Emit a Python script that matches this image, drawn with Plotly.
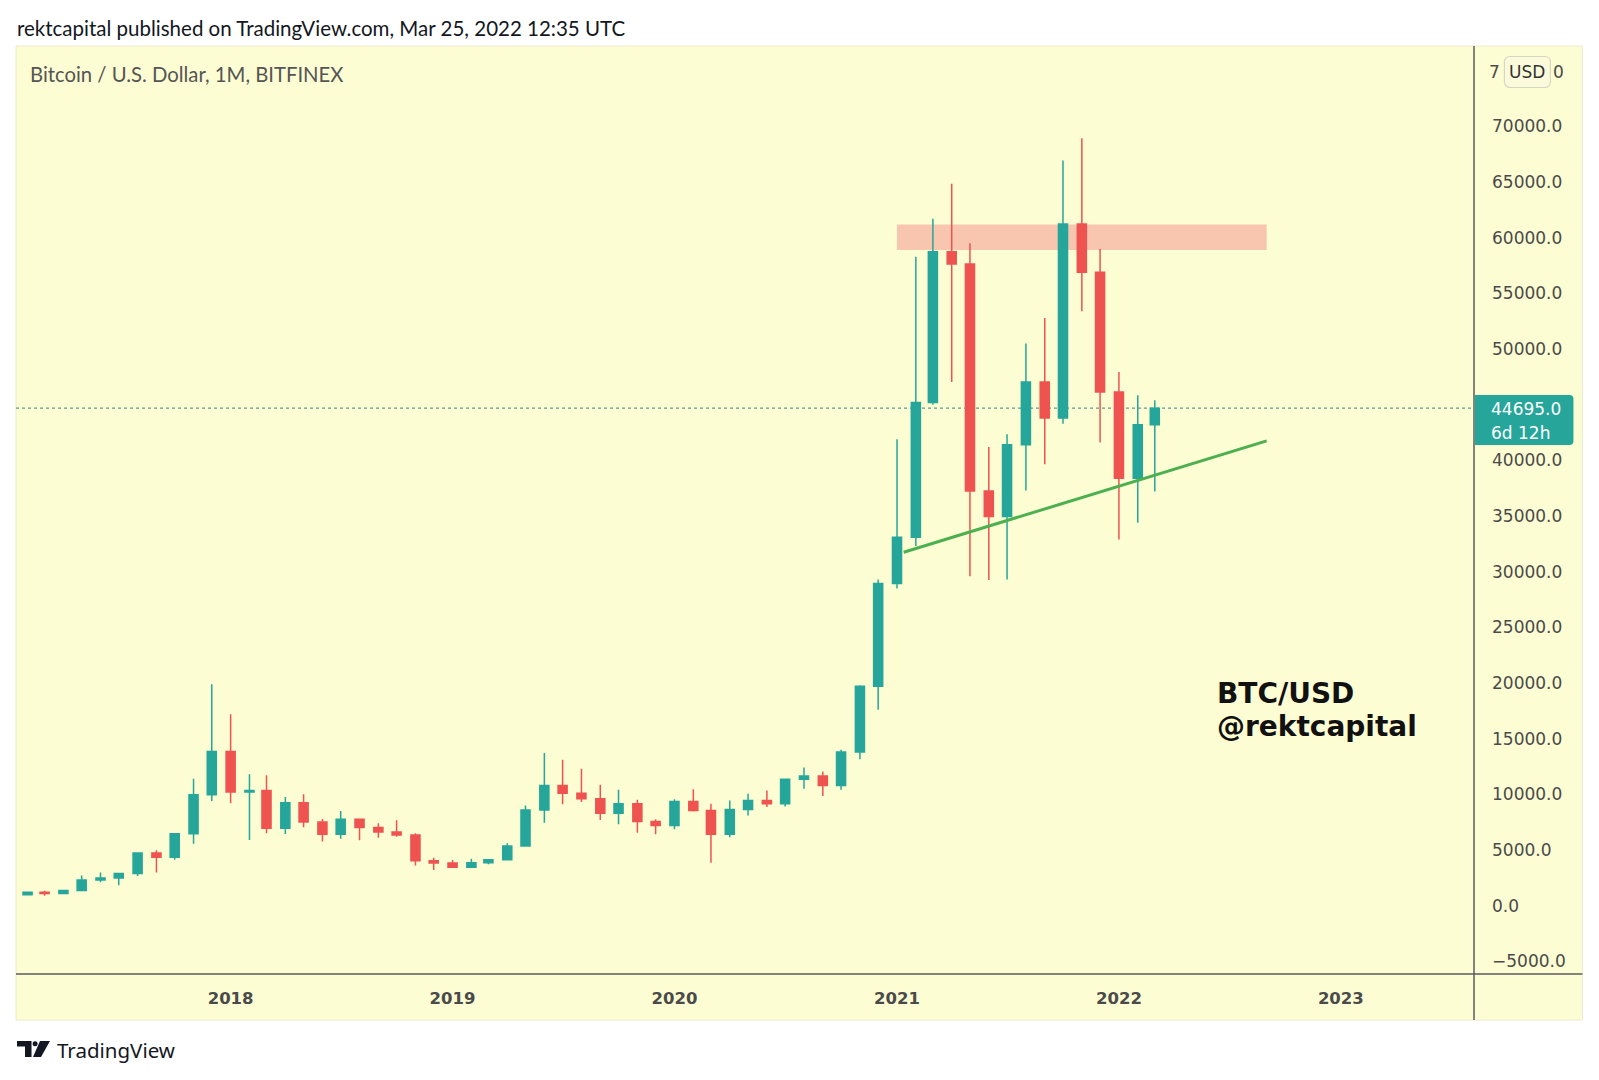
import plotly.graph_objects as go
import pandas as pd

# ---------------- data (monthly BTC/USD, Bitfinex) ----------------
months = pd.date_range("2017-02-01", periods=62, freq="MS")

open_ = [965, 1190, 1080, 1350, 2300, 2480, 2875, 4720, 4340, 6450, 9950,
         13850, 10200, 10350, 6950, 9250, 7500, 6400, 7750, 7020, 6620, 6340, 4040,
         3830, 3450, 3850, 4110, 5350, 8600, 10800, 10100, 9600, 8300, 9150, 7550,
         7200, 9350, 8550, 6420, 8630, 9450, 9140, 11350, 11650, 10780, 13800, 19700,
         28950, 33100, 45200, 58750, 57650, 37250, 34950, 41400, 47050, 43800, 61250, 56900,
         46150, 38400, 43200]
high = [1200, 1330, 1350, 2700, 2980, 2930, 4750, 4980, 6470, 11400, 19890,
        17200, 11800, 11700, 9750, 10000, 7770, 8500, 7770, 7400, 7660, 6500, 4300,
        4100, 4200, 4150, 5600, 9000, 13700, 13100, 12300, 10850, 10400, 9500, 7750,
        9550, 10450, 9150, 9450, 10050, 10350, 11400, 12400, 12050, 14000, 19800, 29300,
        41900, 58300, 61700, 64850, 59500, 41200, 42350, 50500, 52800, 66950, 68950, 59000,
        47950, 45850, 45400]
low = [915, 890, 1060, 1350, 2100, 1830, 2670, 2970, 4120, 5550, 9400,
       9200, 5900, 6500, 6430, 7030, 5760, 6000, 5880, 6100, 6180, 3600, 3200,
       3380, 3380, 3720, 4070, 5350, 7450, 9100, 9300, 7700, 7300, 6550, 6400,
       6850, 8450, 3850, 6150, 8100, 8850, 8900, 10500, 9850, 10400, 13150, 17600,
       28500, 32300, 45000, 47050, 29600, 29250, 29300, 37300, 39650, 43300, 53400, 41600,
       32900, 34400, 37200]
close = [1190, 1080, 1350, 2300, 2480, 2875, 4720, 4340, 6450, 9950, 13850,
         10200, 10350, 6950, 9250, 7500, 6400, 7750, 7020, 6620, 6340, 4040, 3830,
         3450, 3850, 4110, 5350, 8600, 10800, 10100, 9600, 8300, 9150, 7550, 7200,
         9350, 8550, 6420, 8630, 9450, 9140, 11350, 11650, 10780, 13800, 19700, 28950,
         33100, 45200, 58750, 57650, 37250, 34950, 41400, 47050, 43800, 61250, 56900, 46150,
         38400, 43200, 44695]

last_price = 44695.0
countdown = "6d 12h"

# price-scale labels (45000 hidden behind last-price tag, 75000 behind USD button)
price_ticks = [-5000, 0, 5000, 10000, 15000, 20000, 25000, 30000, 35000, 40000,
               50000, 55000, 60000, 65000, 70000]
top_tick_left = "7"
top_tick_right = "0"

year_ticks = ["2018-01-01", "2019-01-01", "2020-01-01", "2021-01-01", "2022-01-01", "2023-01-01"]
year_labels = ["2018", "2019", "2020", "2021", "2022", "2023"]

resist_dates = ["2021-01-01", "2022-09-01"]
resist_prices = [58900, 61200]
trend_dates = ["2021-01-12", "2022-09-01"]
trend_prices = [31750, 41750]

header_text = "rektcapital published on TradingView.com, Mar 25, 2022 12:35 UTC"
symbol_text = "Bitcoin / U.S. Dollar, 1M, BITFINEX"

# ---------------- style ----------------
UP = "#26a69a"
DOWN = "#ef5350"
BG = "#fdfdd3"
AXIS = "#5a5c60"
W, H = 1599, 1080
L, R, T, B = 16, 1473.6, 46, 974
PANEL_R, PANEL_B = 1582, 1020


def xp(px):
    return (px - L) / (R - L)


def yp(py):
    return (B - py) / (B - T)


fig = go.Figure()
fig.add_trace(go.Candlestick(
    x=months, open=open_, high=high, low=low, close=close,
    increasing=dict(line=dict(color=UP, width=1.5), fillcolor=UP),
    decreasing=dict(line=dict(color=DOWN, width=1.5), fillcolor=DOWN),
    whiskerwidth=0, showlegend=False, hoverinfo="skip",
))

shapes = []
# panel background
shapes.append(dict(type="rect", xref="paper", yref="paper",
                   x0=xp(L), x1=xp(PANEL_R), y0=yp(PANEL_B), y1=yp(T),
                   fillcolor=BG, line=dict(color="#ececcf", width=1), layer="below"))
# resistance zone
shapes.append(dict(type="rect", xref="x", yref="y",
                   x0=resist_dates[0], x1=resist_dates[1],
                   y0=resist_prices[0], y1=resist_prices[1],
                   fillcolor="#f8c5ae", line=dict(width=0), layer="below"))
# last price dotted line
shapes.append(dict(type="line", xref="paper", yref="y", x0=0, x1=1,
                   y0=last_price, y1=last_price,
                   line=dict(color="#5e9c97", width=1.3, dash="dot"), layer="below"))
# trend line
shapes.append(dict(type="line", xref="x", yref="y",
                   x0=trend_dates[0], x1=trend_dates[1],
                   y0=trend_prices[0], y1=trend_prices[1],
                   line=dict(color="#4caf50", width=3), layer="above"))
# axis separators
shapes.append(dict(type="line", xref="paper", yref="paper",
                   x0=1, x1=1, y0=yp(PANEL_B), y1=yp(T),
                   line=dict(color=AXIS, width=1.5), layer="above"))
shapes.append(dict(type="line", xref="paper", yref="paper",
                   x0=xp(L), x1=xp(PANEL_R), y0=0, y1=0,
                   line=dict(color=AXIS, width=1.5), layer="above"))


def rounded_rect(x0, y0, x1, y1, r, left_round=True):
    # pixel coords -> paper path with rounded corners
    X = lambda v: xp(v)
    Y = lambda v: yp(v)
    rl = r if left_round else 0
    p = (f"M {X(x0 + rl)},{Y(y0)} L {X(x1 - r)},{Y(y0)} Q {X(x1)},{Y(y0)} {X(x1)},{Y(y0 + r)} "
         f"L {X(x1)},{Y(y1 - r)} Q {X(x1)},{Y(y1)} {X(x1 - r)},{Y(y1)} L {X(x0 + rl)},{Y(y1)} ")
    if rl:
        p += (f"Q {X(x0)},{Y(y1)} {X(x0)},{Y(y1 - rl)} L {X(x0)},{Y(y0 + rl)} "
              f"Q {X(x0)},{Y(y0)} {X(x0 + rl)},{Y(y0)} Z")
    else:
        p += f"L {X(x0)},{Y(y0)} Z"
    return p


# last price label box
shapes.append(dict(type="path", xref="paper", yref="paper",
                   path=rounded_rect(1474.5, 395, 1573, 445, 4, left_round=False),
                   fillcolor="#26a69a", line=dict(width=0), layer="above"))
# USD button
shapes.append(dict(type="path", xref="paper", yref="paper",
                   path=rounded_rect(1504, 56.5, 1550, 87.5, 6),
                   fillcolor="#fbfbdc", line=dict(color="#d6d6c4", width=1.2), layer="above"))

# TradingView logo mark
shapes.append(dict(type="path", xref="paper", yref="paper",
                   path=(f"M {xp(17)},{yp(1041)} L {xp(31.5)},{yp(1041)} L {xp(31.5)},{yp(1057)} "
                         f"L {xp(25)},{yp(1057)} L {xp(25)},{yp(1046.5)} L {xp(17)},{yp(1046.5)} Z"),
                   fillcolor="#131722", line=dict(width=0), layer="above"))
shapes.append(dict(type="circle", xref="paper", yref="paper",
                   x0=xp(32.6), x1=xp(37.6), y0=yp(1046.2), y1=yp(1041.2),
                   fillcolor="#131722", line=dict(width=0), layer="above"))
shapes.append(dict(type="path", xref="paper", yref="paper",
                   path=(f"M {xp(40)},{yp(1041)} L {xp(50)},{yp(1041)} L {xp(41)},{yp(1057)} "
                         f"L {xp(33)},{yp(1057)} Z"),
                   fillcolor="#131722", line=dict(width=0), layer="above"))

TICKFONT = dict(family="DejaVu Sans", size=17, color="#4a4a4a")

annotations = [
    dict(text=header_text, x=xp(15), y=yp(28.5), xref="paper", yref="paper",
         xanchor="left", yanchor="middle", showarrow=False,
         font=dict(family="Lato", size=20.5, color="#131722")),
    dict(text=symbol_text, x=xp(27.5), y=yp(74), xref="paper", yref="paper",
         xanchor="left", yanchor="middle", showarrow=False,
         font=dict(family="Lato", size=20.3, color="#555555")),
    dict(text="<b>BTC/USD</b>", x=xp(1215), y=yp(693), xref="paper", yref="paper",
         xanchor="left", yanchor="middle", showarrow=False,
         font=dict(family="DejaVu Sans", size=28, color="#111111")),
    dict(text="<b>@rektcapital</b>", x=xp(1215), y=yp(726), xref="paper", yref="paper",
         xanchor="left", yanchor="middle", showarrow=False,
         font=dict(family="DejaVu Sans", size=28, color="#111111")),
    dict(text=f"{last_price:.1f}", x=xp(1489), y=yp(409), xref="paper", yref="paper",
         xanchor="left", yanchor="middle", showarrow=False,
         font=dict(family="DejaVu Sans", size=17, color="#ffffff")),
    dict(text=countdown, x=xp(1489), y=yp(432.5), xref="paper", yref="paper",
         xanchor="left", yanchor="middle", showarrow=False,
         font=dict(family="DejaVu Sans", size=17, color="#ffffff")),
    dict(text="USD", x=xp(1527), y=yp(72), xref="paper", yref="paper",
         xanchor="center", yanchor="middle", showarrow=False,
         font=dict(family="DejaVu Sans", size=17, color="#333333")),
    dict(text=top_tick_left, x=xp(1502), y=yp(72), xref="paper", yref="paper",
         xanchor="right", yanchor="middle", showarrow=False, font=TICKFONT),
    dict(text=top_tick_right, x=xp(1551), y=yp(72), xref="paper", yref="paper",
         xanchor="left", yanchor="middle", showarrow=False, font=TICKFONT),
    dict(text="TradingView", x=xp(55), y=yp(1050), xref="paper", yref="paper",
         xanchor="left", yanchor="middle", showarrow=False,
         font=dict(family="Noto Sans", size=20.5, color="#131722")),
]

fig.update_layout(
    width=W, height=H,
    margin=dict(l=L, r=W - R, t=T, b=H - B, pad=0),
    paper_bgcolor="#ffffff",
    plot_bgcolor="rgba(0,0,0,0)",
    boxgap=0.24,
    hovermode=False,
    showlegend=False,
    shapes=shapes,
    annotations=annotations,
    xaxis=dict(
        type="date",
        range=["2017-01-13", "2023-08-08"],
        rangeslider=dict(visible=False),
        tickvals=year_ticks,
        ticktext=[f"<b>{t}</b>" for t in year_labels],
        showgrid=False, zeroline=False, showline=False, ticks="",
        ticklabelstandoff=12,
        tickfont=dict(family="DejaVu Sans", size=16.5, color="#4a4a4a"),
    ),
    yaxis=dict(
        side="right",
        range=[-6146, 77232],
        tickvals=price_ticks,
        tickformat=".1f",
        showgrid=False, zeroline=False, showline=False, ticks="",
        ticklabelstandoff=17,
        tickfont=TICKFONT,
    ),
)

fig.write_html("out.html",
               config={"displayModeBar": False},
               post_script="document.body.style.margin='0';document.body.style.overflow='hidden';")
